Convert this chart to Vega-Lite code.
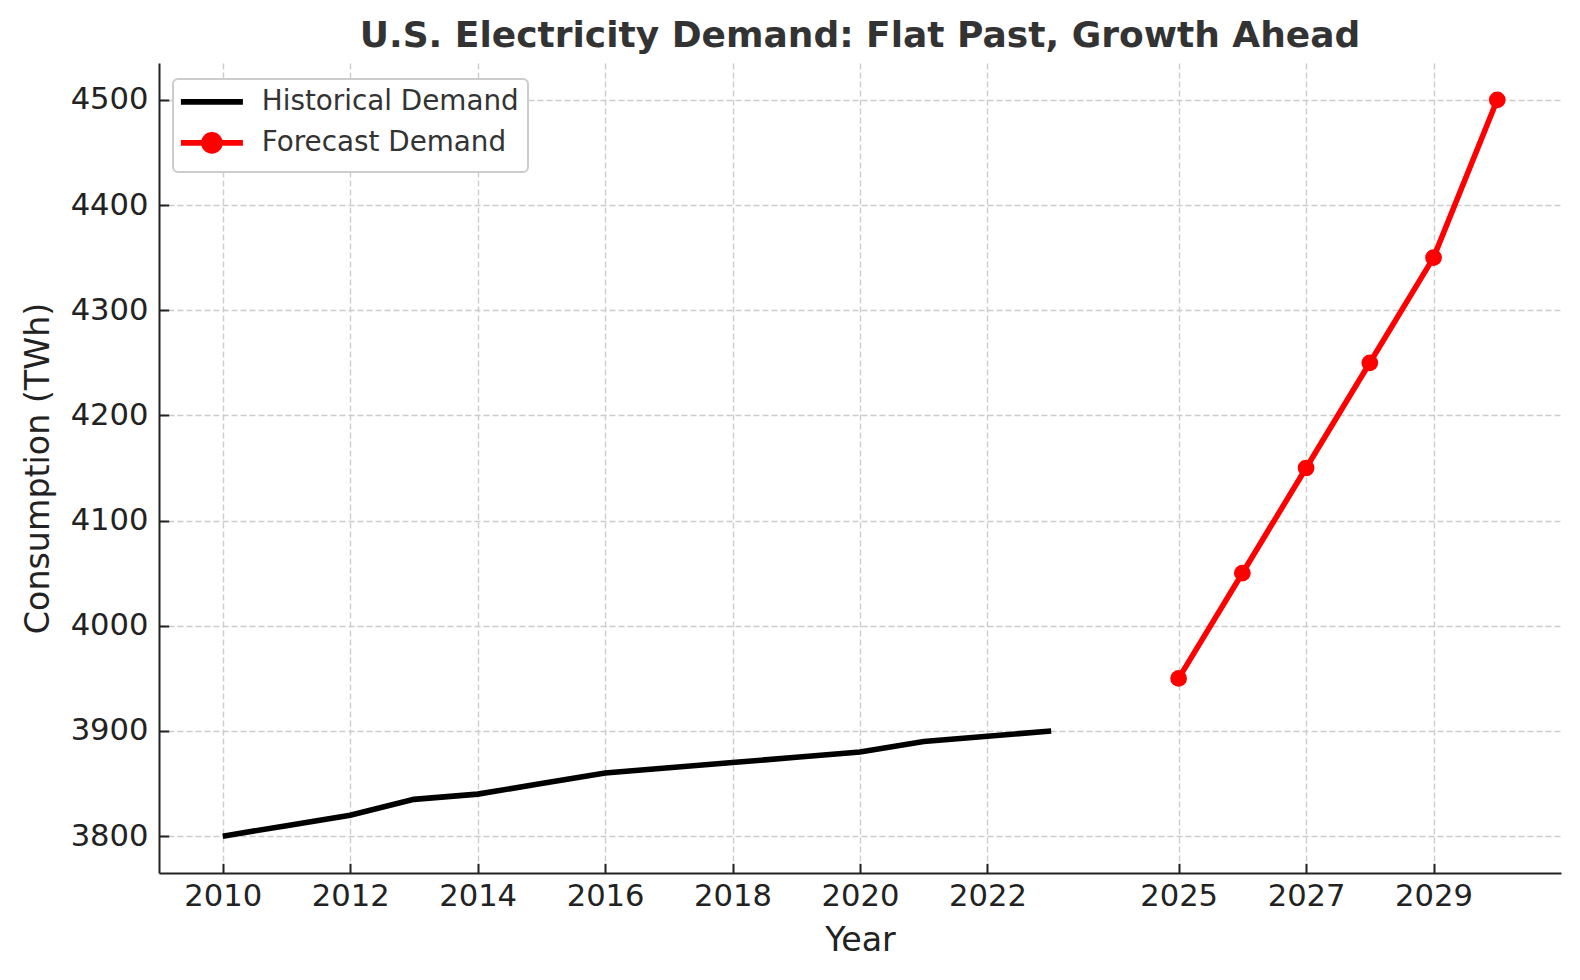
{
  "$schema": "https://vega.github.io/schema/vega-lite/v6.json",
  "autosize": "none",
  "width": 1402,
  "height": 810,
  "padding": {"left": 159, "top": 63, "right": 19, "bottom": 107},
  "background": "white",
  "title": {
    "text": "U.S. Electricity Demand: Flat Past, Growth Ahead",
    "font": "DejaVu Sans",
    "fontSize": 36,
    "fontWeight": "bold",
    "color": "#333333",
    "offset": 8
  },
  "config": {
    "view": {"stroke": null},
    "font": "DejaVu Sans",
    "axis": {
      "labelFont": "DejaVu Sans",
      "labelFontSize": 30.6,
      "labelColor": "#222222",
      "titleFont": "DejaVu Sans",
      "titleFontSize": 33.3,
      "titleFontWeight": "normal",
      "titleColor": "#222222",
      "domainColor": "#222222",
      "domainWidth": 2,
      "tickColor": "#222222",
      "tickWidth": 2,
      "tickSize": -9.7,
      "grid": true,
      "gridColor": "#cccccc",
      "gridDash": [6, 3],
      "gridWidth": 1.4
    }
  },
  "data": {
    "values": [
      {"year": 2010, "value": 3800, "series": "Historical Demand"},
      {"year": 2011, "value": 3810, "series": "Historical Demand"},
      {"year": 2012, "value": 3820, "series": "Historical Demand"},
      {"year": 2013, "value": 3835, "series": "Historical Demand"},
      {"year": 2014, "value": 3840, "series": "Historical Demand"},
      {"year": 2015, "value": 3850, "series": "Historical Demand"},
      {"year": 2016, "value": 3860, "series": "Historical Demand"},
      {"year": 2017, "value": 3865, "series": "Historical Demand"},
      {"year": 2018, "value": 3870, "series": "Historical Demand"},
      {"year": 2019, "value": 3875, "series": "Historical Demand"},
      {"year": 2020, "value": 3880, "series": "Historical Demand"},
      {"year": 2021, "value": 3890, "series": "Historical Demand"},
      {"year": 2022, "value": 3895, "series": "Historical Demand"},
      {"year": 2023, "value": 3900, "series": "Historical Demand"},
      {"year": 2025, "value": 3950, "series": "Forecast Demand"},
      {"year": 2026, "value": 4050, "series": "Forecast Demand"},
      {"year": 2027, "value": 4150, "series": "Forecast Demand"},
      {"year": 2028, "value": 4250, "series": "Forecast Demand"},
      {"year": 2029, "value": 4350, "series": "Forecast Demand"},
      {"year": 2030, "value": 4500, "series": "Forecast Demand"}
    ]
  },
  "encoding": {
    "x": {
      "field": "year",
      "type": "quantitative",
      "scale": {"domain": [2009, 2031], "nice": false, "zero": false},
      "axis": {
        "values": [2010, 2012, 2014, 2016, 2018, 2020, 2022, 2025, 2027, 2029],
        "format": "d",
        "labelPadding": 17.7,
        "titlePadding": 13
      },
      "title": "Year"
    },
    "y": {
      "field": "value",
      "type": "quantitative",
      "scale": {"domain": [3765, 4535], "nice": false, "zero": false},
      "axis": {
        "values": [3800, 3900, 4000, 4100, 4200, 4300, 4400, 4500],
        "format": "d",
        "labelPadding": 20.7,
        "titlePadding": 15
      },
      "title": "Consumption (TWh)"
    }
  },
  "layer": [
    {
      "mark": {"type": "line", "strokeWidth": 5.6, "strokeCap": "butt"},
      "encoding": {
        "color": {
          "field": "series",
          "type": "nominal",
          "scale": {
            "domain": ["Historical Demand", "Forecast Demand"],
            "range": ["#000000", "#ff0000"]
          },
          "legend": {
            "title": null,
            "orient": "none",
            "legendX": 14,
            "legendY": 16,
            "padding": 9,
            "fillColor": "white",
            "strokeColor": "#cccccc",
            "cornerRadius": 5,
            "labelFont": "DejaVu Sans",
            "labelFontSize": 27.8,
            "labelColor": "#333333",
            "labelLimit": 500,
            "labelOffset": 52,
            "rowPadding": 7,
            "symbolSize": 4,
            "symbolStrokeWidth": 5.6,
            "encode": {
              "legend": {"update": {"strokeWidth": {"value": 2}}},
              "symbols": {
                "update": {
                  "shape": {"signal": "indexof(datum.label, 'Forecast') >= 0 ? 'M-15,0H47M8,0A8,8 0 1,0 24,0A8,8 0 1,0 8,0Z' : 'M-15,0H47'"},
                  "fill": {"signal": "indexof(datum.label, 'Forecast') >= 0 ? '#ff0000' : 'transparent'"}
                }
              }
            }
          }
        }
      }
    },
    {
      "transform": [{"filter": "datum.series === 'Forecast Demand'"}],
      "mark": {"type": "point", "filled": true, "size": 280, "opacity": 1, "color": "#ff0000", "shape": "circle"}
    }
  ]
}
